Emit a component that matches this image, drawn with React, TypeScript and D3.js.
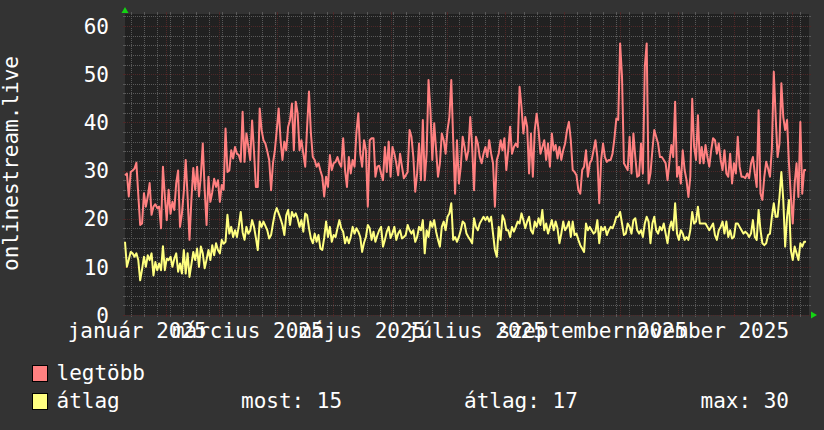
import React from "react";
import * as d3 from "d3";

// ---------- data ----------
const legtobbValues: number[] = [
  29.0, 29.4, 24.6, 29.7, 30.0, 30.4, 31.6, 25.0, 18.7, 19.0, 25.3, 22.5, 24.6, 27.4, 20.8, 22.5, 23.0, 22.2, 22.5, 18.0,
  30.8, 24.6, 19.7, 26.0, 21.0, 23.5, 21.8, 27.4, 30.0, 18.3, 21.0, 25.6, 32.2, 24.6, 15.6, 23.9, 30.5, 26.0, 30.8, 24.6,
  29.0, 35.6, 26.0, 18.7, 28.7, 23.5, 25.5, 28.3, 26.6, 28.0, 23.5, 27.0, 26.0, 38.7, 29.7, 30.0, 34.2, 32.5, 34.9, 33.5,
  33.2, 31.8, 42.2, 31.8, 37.7, 35.0, 32.2, 40.4, 34.0, 26.6, 26.6,
  42.9, 38.4, 36.3, 35.6, 34.0, 32.2, 25.9, 31.5, 34.2, 38.4, 42.9, 36.3, 32.2, 36.0, 34.2, 39.1, 40.5, 43.9, 34.2, 44.3,
  41.9, 34.2, 36.3, 33.5, 30.8, 39.1, 46.4, 37.7, 32.8, 32.2, 30.8, 31.5, 30.0, 28.7, 24.6, 28.7, 26.6, 33.2, 30.1, 31.5,
  31.8, 32.8, 31.5, 30.8, 36.7, 30.1, 26.6, 32.8, 29.4, 32.2, 30.8, 38.0, 41.9, 33.5, 30.8, 36.3, 34.2, 22.5, 36.3, 36.7,
  36.7, 28.7, 30.8, 31.0, 29.4, 28.0, 34.9, 29.7, 36.0, 28.7, 34.9,
  33.5, 31.5, 29.0, 33.5, 30.8, 28.4, 29.0, 29.7, 38.4, 37.0, 32.8, 25.6, 29.4, 35.6, 28.0, 40.5, 28.0, 33.5, 48.8, 42.5,
  32.2, 39.8, 34.2, 28.7, 31.5, 37.7, 36.3, 33.5, 38.4, 41.1, 48.8, 36.3, 25.2, 36.3, 27.3, 30.8, 37.0, 34.9, 32.2, 34.2,
  41.1, 34.9, 25.9, 37.0, 35.6, 32.8, 31.5, 33.5, 34.9, 32.8, 36.3, 33.5, 31.5, 22.5, 32.2, 33.5, 36.3, 34.2, 36.7, 30.1,
  34.2, 39.1, 33.5, 34.9, 35.6, 34.9, 47.4, 43.2, 37.7, 41.1, 39.1, 29.4,
  37.7, 28.7, 38.4, 41.8, 38.4, 33.5, 34.9, 36.3, 32.2, 35.6, 30.8, 37.7, 34.2, 35.3, 32.5, 34.9, 32.2, 34.2, 35.6, 38.4,
  40.1, 36.3, 30.1, 29.7, 29.0, 25.9, 25.2, 30.1, 30.8, 34.2, 28.7, 31.5, 32.2, 34.2, 36.3, 32.8, 23.2, 32.2, 35.6, 32.8,
  31.8, 32.2, 32.2, 33.5, 36.7, 40.8, 40.5, 56.4, 49.4, 31.5, 30.8, 30.1, 37.0, 29.4, 37.7, 32.8, 28.7, 29.0, 35.6, 29.4,
  51.5, 56.4, 27.3, 29.4, 34.2, 38.4, 37.0, 35.6, 32.8, 32.8, 32.2, 31.5, 28.0,
  31.8, 35.3, 32.8, 44.3, 28.7, 30.8, 27.3, 34.2, 30.1, 28.0, 24.5, 28.7, 44.9, 34.9, 32.2, 41.5, 31.5, 34.9, 31.5, 35.3,
  32.8, 30.8, 34.2, 36.7, 36.3, 33.5, 35.6, 32.2, 30.1, 34.2, 29.4, 28.7, 33.5, 27.3, 31.5, 29.4, 37.0, 30.8, 28.7, 28.7,
  28.4, 29.4, 28.4, 31.5, 32.8, 29.4, 26.6, 42.5, 25.2, 23.9, 28.7, 31.8, 30.4, 28.7, 34.6, 50.5, 41.1, 32.8, 35.6, 48.1,
  41.1, 38.4, 40.5, 31.5, 24.5, 19.0, 27.3, 31.5, 24.5, 40.1, 25.2, 30.1, 30.1,
];

const atlagValues: number[] = [
  15.2, 10.0, 11.5, 13.1, 12.8, 12.1, 12.8, 11.4, 7.2, 9.5, 12.1, 10.0, 12.4, 11.4, 12.8, 8.2, 11.0, 9.3, 10.7, 9.3,
  14.3, 9.3, 11.7, 11.4, 12.1, 10.0, 11.7, 12.8, 9.0, 10.7, 8.6, 13.5, 8.6, 12.8, 7.9, 10.5, 13.1, 11.4, 13.8, 10.0,
  14.2, 12.8, 9.7, 11.5, 13.5, 11.4, 14.5, 12.4, 14.9, 13.5, 12.8, 15.6, 14.8, 15.2, 20.8, 16.9, 18.3, 16.2, 17.6, 16.2,
  18.5, 21.4, 17.2, 15.6, 18.3, 16.9, 17.5, 19.7, 18.3, 16.0, 13.5,
  19.4, 18.3, 19.4, 18.5, 17.6, 15.9, 16.6, 19.0, 21.1, 22.2, 21.1, 20.0, 18.7, 16.6, 20.7, 21.8, 18.7, 21.4, 20.4, 21.1,
  20.0, 18.3, 19.7, 17.3, 21.1, 20.7, 18.0, 15.9, 14.9, 16.9, 15.2, 16.6, 13.8, 13.5, 16.0, 19.4, 16.2, 18.3, 15.2, 16.6,
  16.2, 18.0, 19.7, 18.0, 17.3, 14.9, 16.2, 14.9, 16.2, 18.3, 16.9, 18.0, 17.3, 16.2, 13.1, 15.0, 16.2, 18.7, 18.0, 15.6,
  17.3, 15.2, 16.5, 17.6, 18.3, 14.2, 15.6, 17.3, 18.3, 16.0, 17.0,
  18.3, 15.6, 16.9, 17.6, 15.9, 16.2, 16.6, 18.7, 17.6, 16.9, 17.6, 15.2, 16.2, 18.3, 17.6, 19.7, 12.8, 17.6, 16.2, 19.4,
  18.3, 19.7, 17.3, 15.6, 14.2, 18.3, 19.4, 17.6, 20.4, 21.1, 23.2, 15.6, 16.2, 15.2, 16.2, 17.6, 19.4, 19.0, 16.9, 16.2,
  15.6, 14.9, 20.1, 18.3, 17.6, 19.0, 19.7, 20.4, 19.7, 20.4, 19.4, 20.4, 16.9, 13.5, 12.1, 18.3, 15.6, 20.7, 19.7, 17.6,
  17.6, 16.2, 18.3, 17.3, 18.3, 19.4, 19.0, 21.1, 19.7, 18.0, 19.4, 20.4,
  17.6, 16.9, 19.4, 18.3, 20.1, 18.7, 21.8, 17.6, 19.0, 16.9, 18.3, 19.7, 17.6, 19.4, 18.0, 14.9, 16.9, 19.4, 17.6, 18.3,
  19.4, 16.2, 19.4, 16.6, 16.9, 15.6, 14.5, 13.8, 13.1, 19.0, 17.6, 18.3, 17.6, 16.9, 17.3, 19.7, 14.9, 18.3, 17.6, 18.3,
  16.6, 17.6, 18.3, 18.0, 19.0, 20.4, 20.4, 21.4, 19.0, 16.6, 16.9, 19.0, 18.3, 16.9, 19.7, 20.1, 17.6, 16.9, 17.6, 16.2,
  19.0, 20.4, 19.4, 14.9, 19.0, 20.4, 17.6, 16.9, 18.3, 17.6, 19.0, 16.9, 14.9,
  18.0, 19.4, 17.6, 23.2, 16.9, 15.6, 17.6, 16.9, 15.6, 16.2, 15.6, 17.6, 21.4, 19.0, 19.4, 22.5, 19.0, 19.0, 19.0, 19.0,
  18.3, 17.6, 18.3, 19.0, 16.6, 15.6, 17.6, 18.3, 19.4, 16.9, 19.4, 16.2, 17.6, 15.9, 16.2, 19.0, 19.0, 18.3, 17.6, 16.9,
  17.3, 16.9, 16.2, 16.9, 19.7, 16.2, 15.6, 21.8, 17.6, 14.9, 14.5, 14.9, 16.6, 16.9, 20.4, 23.2, 20.4, 20.4, 24.5, 29.7,
  23.9, 14.2, 20.4, 23.9, 13.5, 11.4, 14.2, 12.8, 11.4, 14.9, 14.2, 15.2, 15.2,
];

const legendLabels = ["legtöbb", "átlag"];
const atlagStats = ["most: 15", "átlag: 17", "max: 30"];
const yTickValues = [0, 10, 20, 30, 40, 50, 60];
const monthNamesHu = [
  "január", "február", "március", "április", "május", "június",
  "július", "augusztus", "szeptember", "október", "november", "december",
];
const axisTitle = "onlinestream.live";

// ---------- layout ----------
const WIDTH = 824;
const HEIGHT = 430;
const PLOT = { left: 125, right: 809, top: 14, bottom: 315 };
const rangeStart = new Date(2025, 0, 10);
const rangeEnd = new Date(2026, 0, 10);
const dataStart = new Date(2025, 0, 10);
const dataEnd = new Date(2026, 0, 8, 10);
const Y_MAX = 62.5;

const COLORS = {
  back: "#333333",
  canvas: "#212121",
  grid: "#595959",
  mgrid: "#4e2828",
  font: "#ffffff",
  arrow: "#14d414",
  max: "#ff8080",
  avg: "#ffff80",
};
const FONT = "'DejaVu Sans Mono', monospace";
const FS = 21;

const crisp = (v: number) => Math.round(v) + 0.5;

export default function App() {
  const x = d3.scaleTime().domain([rangeStart, rangeEnd]).range([PLOT.left, PLOT.right]);
  const y = d3.scaleLinear().domain([0, Y_MAX]).range([PLOT.bottom, PLOT.top]);

  const mkPath = (vals: number[]) => {
    const t = d3.scaleLinear().domain([0, vals.length - 1]).range([+dataStart, +dataEnd]);
    return d3
      .line<number>()
      .x((_, i) => x(new Date(t(i))))
      .y((d) => y(d))(vals) as string;
  };

  const minorY = d3.range(0, Y_MAX, 2).filter((v) => v % 10 !== 0);
  const weeks = d3.timeMonday.range(rangeStart, rangeEnd);
  const months = d3.timeMonth.range(rangeStart, rangeEnd);
  const labelMonths = d3
    .timeMonth.every(2)!
    .range(new Date(2025, 0, 1), rangeEnd)
    .map((m) => ({ m, t: new Date(+m + 15.5 * 24 * 3600 * 1000) }))
    .filter((o) => x(o.t) < PLOT.right);

  const hLine = (v: number, color: string, key: string) => {
    const yy = crisp(y(v));
    return (
      <g key={key} shapeRendering="crispEdges">
        <line x1={PLOT.left - 2} x2={PLOT.left} y1={yy} y2={yy} stroke={color} />
        <line x1={PLOT.right} x2={PLOT.right + 2} y1={yy} y2={yy} stroke={color} />
        <line x1={PLOT.left} x2={PLOT.right} y1={yy} y2={yy} stroke={color} strokeDasharray="1,1" />
      </g>
    );
  };
  const vLine = (d: Date, color: string, key: string) => {
    const xx = crisp(x(d));
    return (
      <g key={key} shapeRendering="crispEdges">
        <line x1={xx} x2={xx} y1={PLOT.top - 2} y2={PLOT.top} stroke={color} />
        <line x1={xx} x2={xx} y1={PLOT.bottom} y2={PLOT.bottom + 2} stroke={color} />
        <line x1={xx} x2={xx} y1={PLOT.top} y2={PLOT.bottom} stroke={color} strokeDasharray="1,1" />
      </g>
    );
  };

  return (
    <div style={{ position: "absolute", left: 0, top: 0 }}>
      <svg width={WIDTH} height={HEIGHT} style={{ display: "block" }} fontFamily={FONT}>
        <rect x={0} y={0} width={WIDTH} height={HEIGHT} fill={COLORS.back} />
        <rect
          x={PLOT.left}
          y={PLOT.top}
          width={PLOT.right - PLOT.left}
          height={PLOT.bottom - PLOT.top}
          fill={COLORS.canvas}
        />

        {/* grid */}
        {minorY.map((v) => hLine(v, COLORS.grid, "my" + v))}
        {weeks.map((d) => vLine(d, COLORS.grid, "w" + +d))}
        {yTickValues.map((v) => hLine(v, COLORS.mgrid, "My" + v))}
        {months.map((d) => vLine(d, COLORS.mgrid, "M" + +d))}

        {/* y tick labels */}
        {yTickValues.map((v) => (
          <text key={"yl" + v} x={109} y={y(v) + 7.7} textAnchor="end" fontSize={FS} fill={COLORS.font}>
            {v}
          </text>
        ))}

        {/* x labels */}
        {labelMonths.map((o) => (
          <text key={"xl" + +o.m} x={x(o.t)} y={338} textAnchor="middle" fontSize={FS} fill={COLORS.font}>
            {monthNamesHu[o.m.getMonth()] + " " + o.m.getFullYear()}
          </text>
        ))}

        {/* y axis title */}
        <text
          transform={`translate(18,163.5) rotate(-90)`}
          textAnchor="middle"
          fontSize={FS}
          fill={COLORS.font}
        >
          {axisTitle}
        </text>

        {/* data */}
        <path d={mkPath(legtobbValues)} fill="none" stroke={COLORS.max} strokeWidth={2} strokeLinejoin="round" />
        <path d={mkPath(atlagValues)} fill="none" stroke={COLORS.avg} strokeWidth={2} strokeLinejoin="round" />

        {/* arrows */}
        <polygon points={`${PLOT.left - 3.5},13 ${PLOT.left + 3.5},13 ${PLOT.left},7`} fill={COLORS.arrow} />
        <polygon
          points={`811,${PLOT.bottom - 3.5} 811,${PLOT.bottom + 3.5} 817,${PLOT.bottom}`}
          fill={COLORS.arrow}
        />

        {/* legend */}
        <rect x={32.5} y={365.5} width={15} height={16} fill={COLORS.max} stroke="#000" />
        <text x={56.5} y={380} fontSize={FS} fill={COLORS.font}>
          {legendLabels[0]}
        </text>
        <rect x={32.5} y={393.5} width={15} height={16} fill={COLORS.avg} stroke="#000" />
        <text x={56.5} y={408} fontSize={FS} fill={COLORS.font}>
          {legendLabels[1]}
        </text>
        <text x={241} y={408} fontSize={FS} fill={COLORS.font}>
          {atlagStats[0]}
        </text>
        <text x={464} y={408} fontSize={FS} fill={COLORS.font}>
          {atlagStats[1]}
        </text>
        <text x={700.5} y={408} fontSize={FS} fill={COLORS.font}>
          {atlagStats[2]}
        </text>
      </svg>
    </div>
  );
}
